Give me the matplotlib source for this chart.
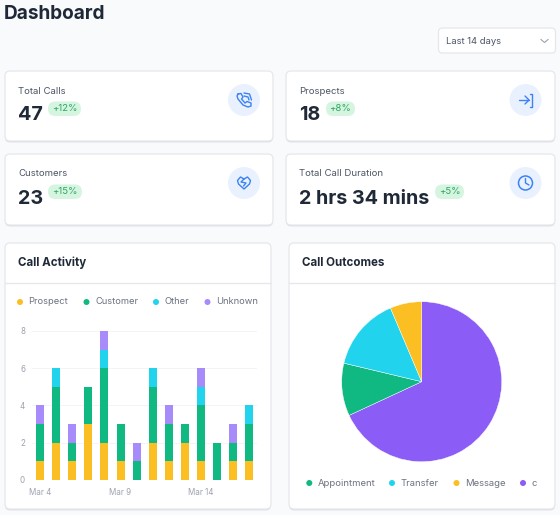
import numpy as np
from matplotlib import pyplot as plt
from matplotlib.patches import Circle, FancyBboxPatch

W, H = 560, 515

# Chart data
days = ["Mar 4", "", "", "", "", "Mar 9", "", "", "", "", "Mar 14", "", "", ""]
prospect = [1, 2, 1, 3, 2, 1, 0, 2, 1, 2, 1, 0, 1, 1]
customer = [2, 3, 1, 2, 4, 2, 1, 3, 2, 1, 3, 2, 1, 2]
other = [0, 1, 0, 0, 1, 0, 0, 1, 0, 0, 1, 0, 0, 1]
unknown = [1, 0, 1, 0, 1, 0, 1, 0, 1, 0, 1, 0, 1, 0]
yticks = [0, 2, 4, 6, 8]

outcome_names = ["Appointment", "Transfer", "Message", "c"]
outcome_values = [5, 7, 3, 32]

# label, value, badge
stats = [
    ("Total Calls", "47", "+12%"),
    ("Prospects", "18", "+8%"),
    ("Customers", "23", "+15%"),
    ("Total Call Duration", "2 hrs 34 mins", "+5%"),
]

YELLOW, GREEN, CYAN, VIOLET, VIOLET2 = "#fbbf24", "#10b981", "#22d3ee", "#a78bfa", "#8b5cf6"
INK, GREY, BLUE = "#1f2937", "#6b7280", "#3b82f6"

plt.rcParams["font.family"] = ["Inter", "DejaVu Sans"]

fig = plt.figure(figsize=(W / 100, H / 100), dpi=100, facecolor="#f9fafc")

# overlay in pixel coordinates for the page furniture
bg = fig.add_axes([0, 0, 1, 1])
bg.set_xlim(0, W)
bg.set_ylim(H, 0)
bg.axis("off")


def card(x0, y0, x1, y1, r=5):
    bg.add_patch(FancyBboxPatch((x0, y0 + 1.5), x1 - x0, y1 - y0, boxstyle=f"round,pad=0,rounding_size={r}",
                                fc="#dfe1e6", ec="none"))
    bg.add_patch(FancyBboxPatch((x0, y0), x1 - x0, y1 - y0, boxstyle=f"round,pad=0,rounding_size={r}",
                                fc="white", ec="#e5e7eb", lw=0.9))


def stat_card(x0, y0, x1, y1, stat, badge_x, badge_w, cx):
    card(x0, y0, x1, y1)
    label, value, badge = stat
    bg.text(x0 + 13, y0 + 20, label, fontsize=6.9, color="#4b5563", va="center")
    bg.text(x0 + 13, y0 + 44.5, value, fontsize=14.2, color=INK, va="center", fontweight="bold")
    by = y0 + 30.5
    bg.add_patch(FancyBboxPatch((badge_x, by), badge_w, 14.5, boxstyle="round,pad=0,rounding_size=7.2",
                                fc="#d6f5e1", ec="none"))
    bg.text(badge_x + badge_w / 2, by + 7, badge, fontsize=6.9, color="#2fa564", ha="center", va="center")
    bg.add_patch(Circle((cx, y0 + 29), 16, fc="#eaf1fe", ec="none"))


stat_card(5, 71, 273, 141, stats[0], 48, 33, 244)
stat_card(286, 71, 555, 141, stats[1], 326, 29, 525.5)
stat_card(5, 154, 273, 225, stats[2], 48, 34, 244)
stat_card(286, 154, 555, 225, stats[3], 435, 29, 525.5)

# icons
icon = dict(color=BLUE, lw=1.0, solid_capstyle="round", solid_joinstyle="round")
# phone
bg.plot([238, 241, 243, 241.5, 245, 247, 251, 251, 248, 243, 238, 237, 238],
        [94, 93.5, 97, 99, 103, 101.5, 103, 106, 107, 105, 99, 96, 94], **icon)
bg.plot([244, 248, 249], [96, 97, 100], **icon)
bg.plot([244, 249.5, 251.5], [93, 94, 100], **icon)
# heart
bg.plot([244, 240.5, 237.5, 238.5, 244, 249.5, 250.5, 247.5, 244, 241, 246, 243.5],
        [179, 177, 180.5, 184, 189, 184, 180.5, 177, 179, 182, 183, 186], **icon)
# enter
bg.plot([518.5, 529], [100, 100], **icon)
bg.plot([525, 529, 525], [96, 100, 104], **icon)
bg.plot([529.5, 532, 532, 529.5], [93.5, 93.5, 106.5, 106.5], **icon)
# clock
bg.add_patch(Circle((525.5, 183), 7, fc="none", ec=BLUE, lw=1.1))
bg.plot([525.5, 525.5, 529], [178.5, 183, 185], **icon)

# header
bg.text(4, 14, "Dashboard", fontsize=13.7, fontweight="bold", color=INK, va="center")
bg.add_patch(FancyBboxPatch((438.5, 28), 117, 25, boxstyle="round,pad=0,rounding_size=4",
                            fc="white", ec="#e5e7eb", lw=0.9))
bg.text(446, 41, "Last 14 days", fontsize=6.8, color="#4b5563", va="center")
bg.plot([541, 544.5, 548], [39.5, 42.5, 39.5], color="#9ca3af", lw=0.8)

# chart cards
for x0, x1, title in [(5, 271, "Call Activity"), (289, 555, "Call Outcomes")]:
    card(x0, 243, x1, 509)
    bg.plot([x0, x1], [282.5, 282.5], color="#e5e7eb", lw=0.9)
    bg.text(x0 + 13, 262.5, title, fontsize=8.3, fontweight="bold", color=INK, va="center")

for dot_x, name, c in [(20, "Prospect", YELLOW), (86.5, "Customer", GREEN),
                       (156, "Other", CYAN), (207.5, "Unknown", VIOLET)]:
    bg.add_patch(Circle((dot_x, 302), 3, fc=c, ec="none"))
    bg.text(dot_x + 8.5, 302, name, fontsize=6.7, color=GREY, va="center")

# stacked bars
ax = fig.add_axes([32 / W, 1 - 479.7 / H, 225.4 / W, 148.7 / H])
ax.patch.set_alpha(0)
x = np.arange(len(days))
bottom = np.zeros(len(days))
for values, c in [(prospect, YELLOW), (customer, GREEN), (other, CYAN), (unknown, VIOLET)]:
    ax.bar(x, values, bottom=bottom, width=0.5, color=c, zorder=3)
    bottom += np.array(values)
ax.set_xlim(-0.5, len(days) - 0.5)
ax.set_ylim(0, 8)
ax.set_yticks(yticks)
ax.set_xticks(x, days)
ax.tick_params(length=0, labelsize=5.8, labelcolor="#9ca3af")
ax.tick_params(axis="x", pad=6)
ax.tick_params(axis="y", pad=5)
ax.grid(axis="y", color="#f3f4f6", lw=0.7, zorder=0)
for s in ax.spines.values():
    s.set_visible(False)

# pie, clockwise from the top starting with the last slice
pie_ax = fig.add_axes([(421.7 - 80) / W, 1 - (381.7 + 80) / H, 160 / W, 160 / H])
order = [3, 0, 1, 2]
pie_colors = [GREEN, CYAN, YELLOW, VIOLET2]
pie_ax.pie([outcome_values[i] for i in order], colors=[pie_colors[i] for i in order],
           startangle=90, counterclock=False, radius=1,
           wedgeprops=dict(edgecolor="white", linewidth=0.3))
pie_ax.set_xlim(-1, 1)
pie_ax.set_ylim(-1, 1)

for dot_x, name, c in zip([309.3, 392, 456.5, 523], outcome_names, pie_colors):
    bg.add_patch(Circle((dot_x, 483), 3, fc=c, ec="none"))
    bg.text(dot_x + 8.5, 483.5, name, fontsize=6.8, color=GREY, va="center")

fig.savefig("out.png", dpi=100, facecolor=fig.get_facecolor())
